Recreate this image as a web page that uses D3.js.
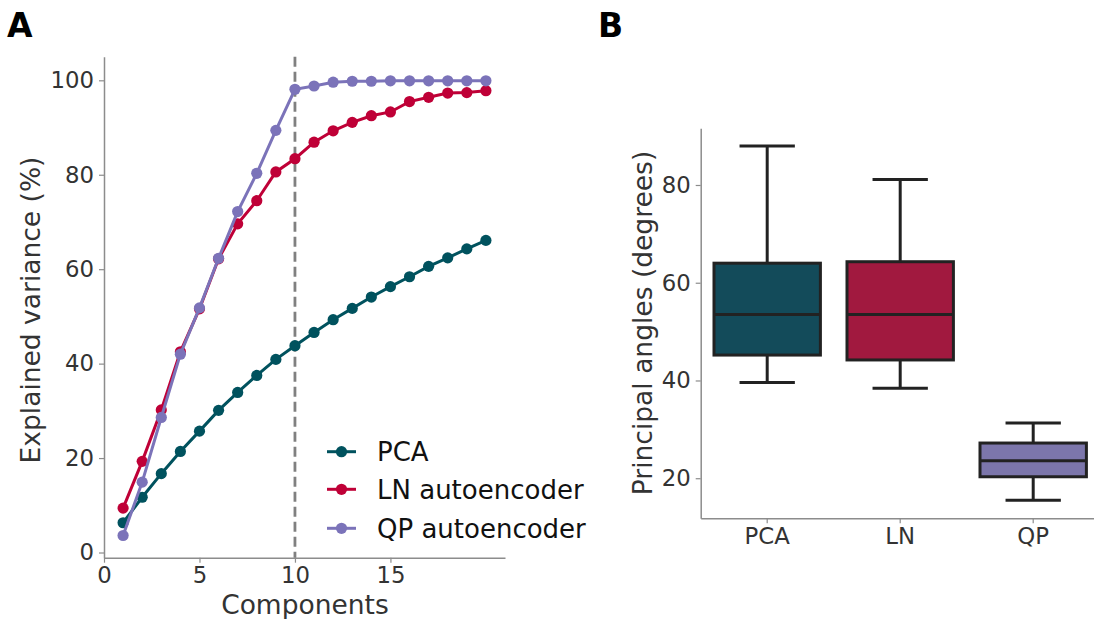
<!DOCTYPE html>
<html><head><meta charset="utf-8">
<script src="https://cdn.jsdelivr.net/npm/d3@7"></script>
<style>body{margin:0;background:#fff}svg{display:block;font-family:"DejaVu Sans",sans-serif}</style>
</head><body><svg id="c" width="1094" height="619"></svg>
<script>
// ---------- Data ----------
const components = d3.range(1, 21);
const pcaVar = [6.3,11.7,16.7,21.4,25.7,30.1,33.9,37.5,40.9,43.8,46.6,49.3,51.7,54.1,56.3,58.4,60.6,62.4,64.3,66.1];
const lnVar  = [9.4,19.3,30.2,42.5,51.6,62.2,69.6,74.5,80.6,83.4,86.9,89.3,91.1,92.5,93.3,95.5,96.4,97.3,97.4,97.8];
const qpVar  = [3.6,14.9,28.6,42.0,51.8,62.3,72.2,80.3,89.4,98.1,98.8,99.6,99.8,99.8,99.9,99.9,99.9,99.9,99.9,99.9];
const seriesNames = ["PCA","LN autoencoder","QP autoencoder"];
const lineColors = ["#00525e","#bf0037","#7b73b9"];
const xTicksA = [0,5,10,15];
const yTicksA = [0,20,40,60,80,100];
const cutoff = 10;

const boxCats = ["PCA","LN","QP"];
const boxColors = ["#134b5a","#a1193f","#7c76ab"];
const whiskLow = [39.6,38.4,15.5];
const q1 = [45.2,44.2,20.3];
const median = [53.5,53.5,23.6];
const q3 = [64.0,64.3,27.2];
const whiskHigh = [88.0,81.1,31.3];
const yTicksB = [20,40,60,80];

// ---------- Drawing ----------
const svg = d3.select("#c");
const tickCol = "#333", spineCol = "#8c8c8c", fs = 22.8, labFs = 26.5;

// Panel A
const xA = d3.scaleLinear().domain([0,21]).range([104,505]);
const yA = d3.scaleLinear().domain([-1.1,105]).range([557.7,56.7]);
const gA = svg.append("g");
const axXA = gA.append("g").attr("transform","translate(0,557.7)")
  .call(d3.axisBottom(xA).tickValues(xTicksA).tickSize(5).tickPadding(4).tickSizeOuter(0));
const axYA = gA.append("g").attr("transform","translate(104,0)")
  .call(d3.axisLeft(yA).tickValues(yTicksA).tickSize(5).tickPadding(5).tickSizeOuter(0));
[axXA,axYA].forEach(a=>{
  a.select(".domain").attr("stroke",spineCol).attr("stroke-width",1.5);
  a.selectAll(".tick line").attr("stroke",spineCol).attr("stroke-width",1.2);
  a.selectAll(".tick text").attr("fill",tickCol).style("font-size",fs+"px").style("font-family","DejaVu Sans");
});
axXA.selectAll(".tick text").attr("dy","0.72em");
gA.append("line").attr("x1",xA(cutoff)).attr("x2",xA(cutoff)).attr("y1",yA(105)).attr("y2",yA(-1.1))
  .attr("stroke","#808080").attr("stroke-width",2.8).attr("stroke-dasharray","10,5");
const seriesA = [pcaVar,lnVar,qpVar];
const line = d3.line().x((d,i)=>xA(components[i])).y(d=>yA(d));
seriesA.forEach((s,k)=>{
  gA.append("path").datum(s).attr("d",line).attr("fill","none").attr("stroke",lineColors[k]).attr("stroke-width",3);
  gA.selectAll(null).data(s).enter().append("circle")
    .attr("cx",(d,i)=>xA(components[i])).attr("cy",d=>yA(d)).attr("r",5.6).attr("fill",lineColors[k]);
});
gA.append("text").attr("x",305).attr("y",614).attr("text-anchor","middle").attr("fill",tickCol)
  .style("font-size",labFs+"px").text("Components");
gA.append("text").attr("transform","translate(40,310) rotate(-90)").attr("text-anchor","middle").attr("fill",tickCol)
  .style("font-size",labFs+"px").text("Explained variance (%)");
// legend
const legY = [451.7,489.3,528.3];
seriesNames.forEach((n,k)=>{
  gA.append("line").attr("x1",327).attr("x2",356).attr("y1",legY[k]).attr("y2",legY[k]).attr("stroke",lineColors[k]).attr("stroke-width",3);
  gA.append("circle").attr("cx",341.5).attr("cy",legY[k]).attr("r",5.6).attr("fill",lineColors[k]);
  gA.append("text").attr("x",377).attr("y",legY[k]).attr("dy","0.36em").attr("fill","#111").style("font-size","26px").text(n);
});
svg.append("text").attr("x",7).attr("y",37).style("font-size","33px").style("font-weight","bold").attr("fill","#000").text("A");

// Panel B
const xB = d3.scaleBand().domain(boxCats).range([700.7,1099.7]);
const yB = d3.scaleLinear().domain([11.8,91.6]).range([518.3,128.3]);
const gB = svg.append("g");
const axXB = gB.append("g").attr("transform","translate(0,518.3)")
  .call(d3.axisBottom(xB).tickSize(5).tickPadding(4).tickSizeOuter(0));
const axYB = gB.append("g").attr("transform","translate(700.7,0)")
  .call(d3.axisLeft(yB).tickValues(yTicksB).tickSize(5).tickPadding(5).tickSizeOuter(0));
[axXB,axYB].forEach(a=>{
  a.select(".domain").attr("stroke",spineCol).attr("stroke-width",1.5);
  a.selectAll(".tick line").attr("stroke",spineCol).attr("stroke-width",1.2);
  a.selectAll(".tick text").attr("fill",tickCol).style("font-size",fs+"px").style("font-family","DejaVu Sans");
});
axXB.selectAll(".tick text").attr("dy","0.72em");
const bw = xB.bandwidth()*0.8, cw = bw*0.52;
boxCats.forEach((c,i)=>{
  const cx = xB(c)+xB.bandwidth()/2;
  const g = gB.append("g").attr("stroke","#222").attr("stroke-width",3);
  g.append("line").attr("x1",cx).attr("x2",cx).attr("y1",yB(q3[i])).attr("y2",yB(whiskHigh[i]));
  g.append("line").attr("x1",cx).attr("x2",cx).attr("y1",yB(q1[i])).attr("y2",yB(whiskLow[i]));
  g.append("line").attr("x1",cx-cw/2).attr("x2",cx+cw/2).attr("y1",yB(whiskHigh[i])).attr("y2",yB(whiskHigh[i]));
  g.append("line").attr("x1",cx-cw/2).attr("x2",cx+cw/2).attr("y1",yB(whiskLow[i])).attr("y2",yB(whiskLow[i]));
  g.append("rect").attr("x",cx-bw/2).attr("width",bw).attr("y",yB(q3[i])).attr("height",yB(q1[i])-yB(q3[i])).attr("fill",boxColors[i]);
  g.append("line").attr("x1",cx-bw/2).attr("x2",cx+bw/2).attr("y1",yB(median[i])).attr("y2",yB(median[i]));
});
gB.append("text").attr("transform","translate(652,323) rotate(-90)").attr("text-anchor","middle").attr("fill",tickCol)
  .style("font-size",labFs+"px").text("Principal angles (degrees)");
svg.append("text").attr("x",598).attr("y",37).style("font-size","33px").style("font-weight","bold").attr("fill","#000").text("B");
</script></body></html>
